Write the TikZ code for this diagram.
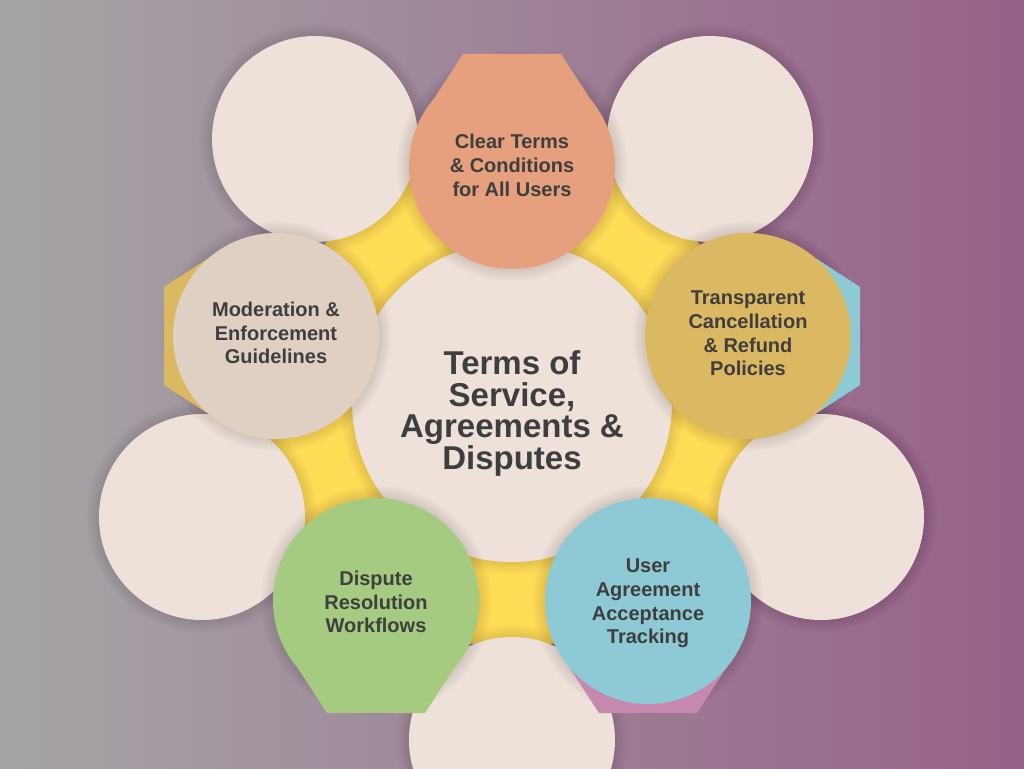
\documentclass[tikz,border=0pt]{standalone}
\usepackage{fontspec}
\setmainfont{Liberation Sans}
\definecolor{bgL}{RGB}{166,165,166}
\definecolor{bgR}{RGB}{151,97,137}
\definecolor{yel}{RGB}{255,221,87}
\definecolor{beige}{RGB}{237,225,217}
\definecolor{modc}{RGB}{223,208,195}
\definecolor{orng}{RGB}{230,160,126}
\definecolor{gold}{RGB}{219,184,98}
\definecolor{sky}{RGB}{141,202,213}
\definecolor{leaf}{RGB}{165,203,128}
\definecolor{rose}{RGB}{198,136,174}
\definecolor{ink}{RGB}{62,62,62}
\newcommand{\blobshadow}[2]{%
  \foreach \k in {1,...,9}{\fill[black,fill opacity=0.011] #1 circle[radius={(#2+1.4*\k)*1pt}];}}
\tikzset{
  blob/.style={circle, minimum size=206pt, inner sep=0pt, outer sep=0pt},
  hubblob/.style={circle, minimum size=320pt, inner sep=0pt, outer sep=0pt, fill=beige},
  lbl/.style={align=center, text=ink, inner sep=0pt, font=\bfseries\fontsize{20}{23.7}\selectfont},
  hublbl/.style={align=center, text=ink, inner sep=0pt, font=\bfseries\fontsize{33}{31.8}\selectfont},
}
\begin{document}
\begin{tikzpicture}[x=1pt,y=-1pt]
\useasboundingbox (0,0) rectangle (1024,768);
\shade[left color=bgL, right color=bgR] (0,0) rectangle (1024,768);
% yellow core
\node[circle, fill=yel, minimum size=490pt, inner sep=0pt] (core) at (512,402) {};
% outer beige circles
\blobshadow{(315,139)}{103}
\node[blob, fill=beige] (btl) at (315,139) {};
\blobshadow{(710,139)}{103}
\node[blob, fill=beige] (btr) at (710,139) {};
\blobshadow{(202,517)}{103}
\node[blob, fill=beige] (bl) at (202,517) {};
\blobshadow{(821,517)}{103}
\node[blob, fill=beige] (br) at (821,517) {};
\blobshadow{(512,740)}{103}
\node[blob, fill=beige] (bb) at (512,740) {};
% hub
\blobshadow{(512,402)}{160}
\node[hubblob] (hub) at (512,402) {};
\node[hublbl] (hubtext) at (512,413.5) {Terms of\\Service,\\Agreements \&\\Disputes};
% orange (top)
\blobshadow{(512,166)}{103}
\fill[orng] (463,54) -- (561,54) -- (598,111) -- (426,111) -- cycle;
\node[blob, fill=orng] (c1) at (512,166) {};
\node[lbl] (t1) at (512,165.5) {Clear Terms\\\& Conditions\\for All Users};
% gold (right) with blue tab
\blobshadow{(748,336)}{103}
\fill[sky] (860,287) -- (860,385) -- (803,422) -- (803,250) -- cycle;
\node[blob, fill=gold] (c2) at (748,336) {};
\node[lbl] (t2) at (748,333.5) {Transparent\\Cancellation\\\& Refund\\Policies};
% blue (bottom right) with pink tab
\blobshadow{(648,601)}{103}
\fill[rose] (599,713) -- (697,713) -- (734,656) -- (562,656) -- cycle;
\node[blob, fill=sky] (c3) at (648,601) {};
\node[lbl] (t3) at (648,603.5) {User\\Agreement\\Acceptance\\Tracking};
% green (bottom left)
\blobshadow{(376,601)}{103}
\fill[leaf] (327,713) -- (425,713) -- (462,656) -- (290,656) -- cycle;
\node[blob, fill=leaf] (c4) at (376,601) {};
\node[lbl] (t4) at (376,602) {Dispute\\Resolution\\Workflows};
% moderation (left) with gold tab
\blobshadow{(276,336)}{103}
\fill[gold] (164,287) -- (164,385) -- (221,422) -- (221,250) -- cycle;
\node[blob, fill=modc] (c5) at (276,336) {};
\node[lbl] (t5) at (276,333) {Moderation \&\\Enforcement\\Guidelines};
\end{tikzpicture}
\end{document}
